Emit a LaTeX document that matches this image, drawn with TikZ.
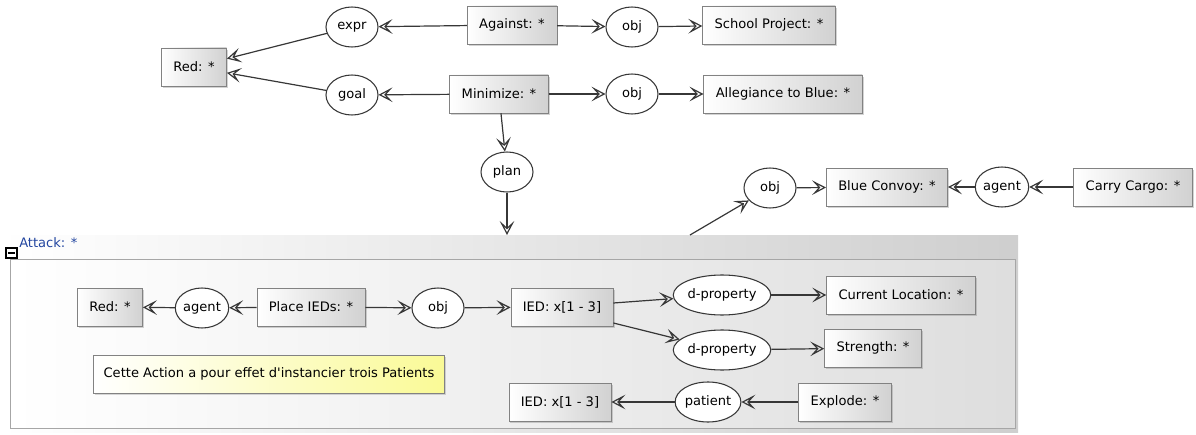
\documentclass[tikz,border=0pt]{standalone}
\usepackage{fontspec}
\setmainfont{DejaVu Sans}
\usetikzlibrary{arrows.meta,shapes.geometric,shadows}
\tikzset{font={\fontsize{9.8pt}{11}\selectfont}}
\definecolor{cgline}{RGB}{55,55,55}
\definecolor{cgframe}{RGB}{130,130,130}
\definecolor{cgblue}{RGB}{35,70,160}
\definecolor{noteyellow}{RGB}{250,250,150}

\begin{document}
\begin{tikzpicture}[x=0.75pt,y=-0.75pt,
concept/.style={draw=cgframe, left color=white, right color=black!18,
  minimum height=28.5pt, inner xsep=9pt,
  drop shadow={shadow xshift=1.2pt,shadow yshift=-1.2pt,opacity=.35}},
relation/.style={ellipse, draw=cgline, fill=white, line width=0.8pt,
  minimum width=39pt, minimum height=30pt, inner sep=0pt},
link/.style={draw=cgline, line width=0.9pt,
  -{Stealth[open,length=10.5pt,width=11pt,inset=5pt]}},
]
\useasboundingbox (0,0) rectangle (1196,435);

% Attack context
\shade[left color=white, right color=black!19] (0,235) rectangle (1018,432);
\shade[left color=white, right color=black!13] (10,259) rectangle (1015,428);
\draw[black!35] (10,428) -- (10,259) -- (1015,259) -- (1015,428) -- cycle;
\draw[line width=1pt] (6,248) rectangle (17,258);
\draw[line width=1pt] (8,253) -- (15,253);
\node[anchor=base west, text=cgblue, inner sep=0pt] (attacklabel) at (19,247) {Attack: *};
\coordinate (attacktop) at (507,235);
\coordinate (attackout) at (690,235);

% goal graph
\node[concept] (red) at (194,67) {Red: *};
\node[relation] (expr) at (352,27) {expr};
\node[relation] (goal) at (352,95) {goal};
\node[concept] (against) at (512,25) {Against: *};
\node[relation] (obja) at (632,27) {obj};
\node[concept] (school) at (769,25) {School Project: *};
\node[concept] (minimize) at (499,94) {Minimize: *};
\node[relation] (objb) at (632,94) {obj};
\node[concept] (allegiance) at (783,94) {Allegiance to Blue: *};
\node[relation] (plan) at (507,172) {plan};

% convoy
\node[relation] (objc) at (770,188) {obj};
\node[concept] (convoy) at (887,187) {Blue Convoy: *};
\node[relation] (agenta) at (1002,187) {agent};
\node[concept] (carry) at (1133,187) {Carry Cargo: *};

% inside the attack
\node[concept] (redb) at (110,307) {Red: *};
\node[relation] (agentb) at (202,308) {agent};
\node[concept] (place) at (311,307) {Place IEDs: *};
\node[relation] (objd) at (438,308) {obj};
\node[concept] (ied) at (562,307) {IED: x[1 - 3]};
\node[relation] (dpropa) at (722,295) {d-property};
\node[relation] (dpropb) at (722,350) {d-property};
\node[concept] (curloc) at (901,295) {Current Location: *};
\node[concept] (strength) at (873,348) {Strength: *};
\node[concept] (iedb) at (560,402) {IED: x[1 - 3]};
\node[relation] (patient) at (708,402) {patient};
\node[concept] (explode) at (845,402) {Explode: *};
\node[draw=cgframe, left color=white, right color=noteyellow,
  minimum height=28.5pt, inner xsep=7.5pt,
  drop shadow={shadow xshift=1.2pt,shadow yshift=-1.2pt,opacity=.3}]
  (note) at (269,374) {Cette Action a pour effet d\textquotesingle instancier trois Patients};

% links
\draw[link] (against) -- (expr);
\draw[link] (expr) -- (red);
\draw[link] (minimize) -- (goal);
\draw[link] (goal) -- (red);
\draw[link] (against) -- (obja);
\draw[link] (obja) -- (school);
\draw[link] (minimize) -- (objb);
\draw[link] (objb) -- (allegiance);
\draw[link] (minimize) -- (plan);
\draw[link] (plan) -- (attacktop);
\draw[link] (attackout) -- (objc);
\draw[link] (objc) -- (convoy);
\draw[link] (carry) -- (agenta);
\draw[link] (agenta) -- (convoy);

\draw[link] (place) -- (agentb);
\draw[link] (agentb) -- (redb);
\draw[link] (place) -- (objd);
\draw[link] (objd) -- (ied);
\draw[link] ([yshift=3pt]ied.east) -- (dpropa);
\draw[link] ([yshift=-12pt]ied.east) -- (dpropb);
\draw[link] (dpropa) -- (curloc);
\draw[link] (dpropb) -- (strength);
\draw[link] (explode) -- (patient);
\draw[link] (patient) -- (iedb);
\end{tikzpicture}
\end{document}
